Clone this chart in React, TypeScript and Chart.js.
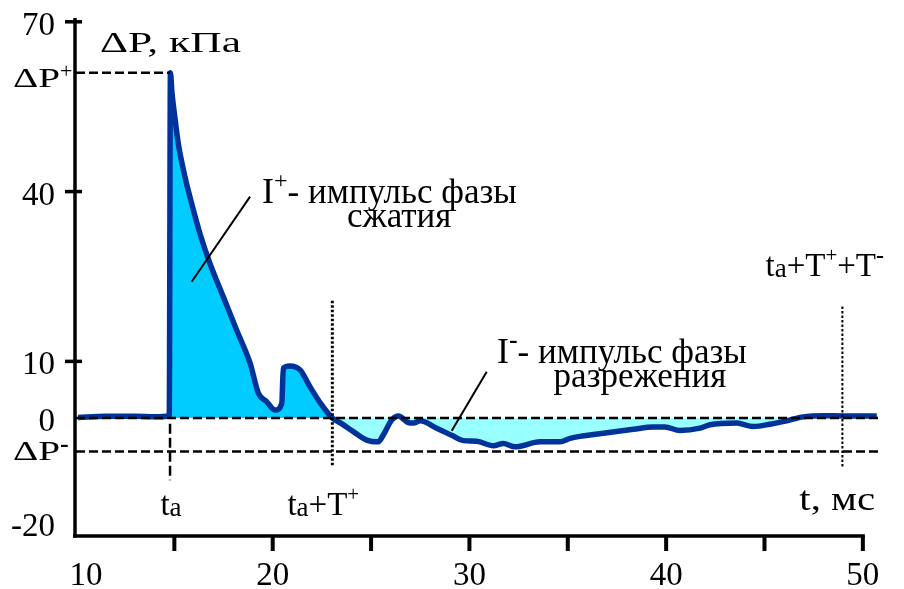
import React, { useEffect, useRef } from "react";
import { Chart, registerables } from "chart.js";

Chart.register(...registerables);

// Overpressure record of a blast wave: time (ms) and ΔP (kPa)
const timeMs = [
  10.1, 11.5, 13.0, 14.0, 14.74, 14.8, 14.88, 14.98, 15.2, 15.54, 15.88, 16.3, 16.81,
  17.49, 18.17, 18.85, 19.27, 19.69, 20.12, 20.46, 20.54, 20.88, 21.39, 21.9, 22.49,
  23.03, 23.5, 24.1, 24.78, 25.37, 25.62, 26.05, 26.39, 26.89, 27.15, 27.49, 28.34,
  29.18, 29.69, 30.37, 31.22, 31.72, 32.32, 33.59, 34.61, 35.11, 36.81, 38.33, 39.35,
  39.94, 40.7, 41.72, 42.23, 43.59, 44.43, 45.28, 46.13, 46.97, 47.99, 49.01, 50.71,
];
const pressureKPa = [
  0.1, 0.3, 0.3, 0.2, 0.4, 61.0, 57.4, 54.4, 48.5, 42.6, 37.9, 32.6, 27.3,
  21.4, 15.5, 9.7, 4.4, 2.9, 1.4, 2.6, 8.8, 9.2, 8.5, 5.5, 2.3,
  0.0, -1.0, -2.4, -3.9, -4.2, -3.0, -0.35, 0.35, -0.8, -0.9, -0.5, -1.8,
  -3.2, -4.0, -4.1, -4.9, -4.5, -5.1, -4.2, -4.2, -3.6, -2.7, -2.0, -1.6,
  -1.6, -2.2, -1.8, -1.2, -0.9, -1.5, -1.1, -0.5, 0.2, 0.4, 0.35, 0.35,
];

// Axis ticks
const xTickLabels = [10, 20, 30, 40, 50];
const xTickMarks = [15, 20, 25, 30, 35, 40, 45, 50];
const yTickLabels = [70, 40, 10, 0, -20];
const yTickMarks = [70, 40, 10];

// Characteristic points of the wave
const tArrival = 14.78; // t_a
const tPositiveEnd = 23.03; // t_a + T+
const tNegativeEnd = 48.96; // t_a + T+ + T-
const peakOver = 61; // ΔP+
const peakUnder = -5.9; // ΔP-

const FONT = "'Liberation Serif', 'Times New Roman', serif";
const LINE_COLOR = "#003399";
const FILL_POS = "#00CCFF";
const FILL_NEG = "#99FFFF";

type Seg = { t: string; size: number; dy?: number; sx?: number; bold?: boolean };

function segWidth(ctx: CanvasRenderingContext2D, s: Seg) {
  ctx.font = `${s.bold ? "bold " : ""}${s.size}px ${FONT}`;
  return ctx.measureText(s.t).width * (s.sx ?? 1);
}

function drawRich(
  ctx: CanvasRenderingContext2D,
  segs: Seg[],
  x: number,
  y: number,
  align: "left" | "center" | "right" = "left"
) {
  const total = segs.reduce((w, s) => w + segWidth(ctx, s), 0);
  let cx = align === "left" ? x : align === "center" ? x - total / 2 : x - total;
  ctx.save();
  ctx.fillStyle = "#000";
  ctx.textBaseline = "alphabetic";
  ctx.textAlign = "left";
  for (const s of segs) {
    const w = segWidth(ctx, s);
    ctx.save();
    ctx.translate(cx, y + (s.dy ?? 0));
    ctx.scale(s.sx ?? 1, 1);
    ctx.fillText(s.t, 0, 0);
    ctx.restore();
    cx += w;
  }
  ctx.restore();
}

const overlay = {
  id: "overlay",
  afterDatasetsDraw(chart: any) {
    const { ctx, chartArea: a } = chart;
    const xs = chart.scales.x;
    const ys = chart.scales.y;
    const X = (v: number) => xs.getPixelForValue(v);
    const Y = (v: number) => ys.getPixelForValue(v);
    const seg = (x1: number, y1: number, x2: number, y2: number) => {
      ctx.beginPath();
      ctx.moveTo(x1, y1);
      ctx.lineTo(x2, y2);
      ctx.stroke();
    };

    ctx.save();
    ctx.strokeStyle = "#000";
    ctx.lineCap = "butt";

    // dashed reference levels
    ctx.lineWidth = 2.5;
    ctx.setLineDash([9, 4]);
    seg(a.left, Y(0), a.right, Y(0));
    seg(a.left, Y(peakUnder), a.right, Y(peakUnder));
    seg(a.left, Y(peakOver), X(tArrival), Y(peakOver));
    ctx.setLineDash([10, 4]);
    seg(X(tArrival), Y(-1), X(tArrival), Y(-11));

    // dotted phase boundaries
    ctx.setLineDash([2.5, 2]);
    ctx.lineWidth = 3;
    seg(X(tPositiveEnd), Y(20.7), X(tPositiveEnd), Y(-8.7));
    ctx.lineWidth = 2;
    seg(X(tNegativeEnd), Y(19.7), X(tNegativeEnd), Y(-8.8));

    // leader lines for the impulse captions
    ctx.setLineDash([]);
    ctx.lineWidth = 2;
    seg(X(15.88), Y(24.08), X(18.85), Y(39.1));
    seg(X(29.1), Y(-2.24), X(30.88), Y(8.18));

    // axes
    ctx.lineWidth = 3.5;
    seg(a.left - 1, a.top, a.left - 1, a.bottom + 1.5);
    seg(a.left - 3, a.bottom, X(50) + 2, a.bottom);
    ctx.lineWidth = 4;
    for (const v of xTickMarks) seg(X(v), a.bottom, X(v), a.bottom + 15);
    ctx.lineWidth = 3.5;
    for (const v of yTickMarks) seg(a.left - 11, Y(v), a.left + 6, Y(v));

    // tick labels
    for (const v of xTickLabels) {
      const x = v === 10 ? X(v) + 10 : X(v);
      drawRich(ctx, [{ t: String(v), size: 33 }], x, a.bottom + 49, "center");
    }
    for (const v of yTickLabels) {
      const y = Math.min(Y(v) + 13, a.bottom);
      drawRich(ctx, [{ t: String(v), size: 33 }], 55, y, "right");
    }
    drawRich(ctx, [{ t: "ΔP", size: 28, sx: 1.4 }, { t: "+", size: 22, dy: -9 }], 13, Y(peakOver) + 14);
    drawRich(
      ctx,
      [{ t: "ΔP", size: 28, sx: 1.4 }, { t: "-", size: 26, dy: -8, bold: true }],
      13,
      Y(peakUnder) + 9
    );

    // axis titles
    drawRich(ctx, [{ t: "ΔP, кПа", size: 30, sx: 1.45 }], X(11.22), Y(64.66));
    drawRich(ctx, [{ t: "t, мс", size: 34, sx: 1.2 }], a.right - 3, a.bottom - 26, "right");

    // time markers
    const ta: Seg[] = [{ t: "t", size: 33 }, { t: "a", size: 27, dy: 1 }];
    drawRich(ctx, ta, X(tArrival) + 1, a.bottom - 21, "center");
    drawRich(
      ctx,
      [...ta, { t: "+", size: 33 }, { t: "T", size: 33 }, { t: "+", size: 21, dy: -14 }],
      X(tPositiveEnd) - 9,
      a.bottom - 21,
      "center"
    );
    drawRich(
      ctx,
      [
        ...ta,
        { t: "+", size: 33 },
        { t: "T", size: 33 },
        { t: "+", size: 21, dy: -14 },
        { t: "+", size: 33 },
        { t: "T", size: 33 },
        { t: "-", size: 24, dy: -13, bold: true },
      ],
      a.right + 6,
      Y(25.1),
      "right"
    );

    // impulse captions
    drawRich(
      ctx,
      [{ t: "I", size: 36 }, { t: "+", size: 24, dy: -15 }, { t: "- импульс фазы", size: 35 }],
      X(19.46),
      Y(37.99)
    );
    drawRich(ctx, [{ t: "сжатия", size: 35 }], X(26.43), Y(33.8), "center");
    drawRich(
      ctx,
      [{ t: "I", size: 36 }, { t: "-", size: 26, dy: -15, bold: true }, { t: "- импульс фазы", size: 35 }],
      X(31.4),
      Y(9.72)
    );
    drawRich(ctx, [{ t: "разрежения", size: 35 }], X(38.67), Y(5.48), "center");

    ctx.restore();
  },
};

export default function App() {
  const canvasRef = useRef<HTMLCanvasElement | null>(null);

  useEffect(() => {
    const canvas = canvasRef.current;
    if (!canvas) return;
    const points = timeMs.map((t, i) => ({ x: t, y: pressureKPa[i] }));
    const chart = new Chart(canvas, {
      type: "line",
      data: {
        datasets: [
          {
            data: points,
            borderColor: LINE_COLOR,
            borderWidth: 5.5,
            borderJoinStyle: "round",
            borderCapStyle: "butt",
            pointRadius: 0,
            cubicInterpolationMode: "monotone",
            fill: { target: { value: 0 }, above: FILL_POS, below: FILL_NEG },
          },
        ],
      },
      options: {
        responsive: false,
        animation: false,
        layout: { padding: { left: 76, right: 26, top: 18, bottom: 53 } },
        plugins: { legend: { display: false }, tooltip: { enabled: false } },
        scales: {
          x: { type: "linear", min: 10, max: 50.77, display: false },
          y: { type: "linear", min: -20.85, max: 70.67, display: false },
        },
      },
      plugins: [overlay],
    });
    return () => chart.destroy();
  }, []);

  return (
    <div style={{ position: "absolute", left: 0, top: 0, width: 904, height: 589, background: "#fff" }}>
      <canvas ref={canvasRef} width={904} height={589} style={{ display: "block" }} />
    </div>
  );
}
